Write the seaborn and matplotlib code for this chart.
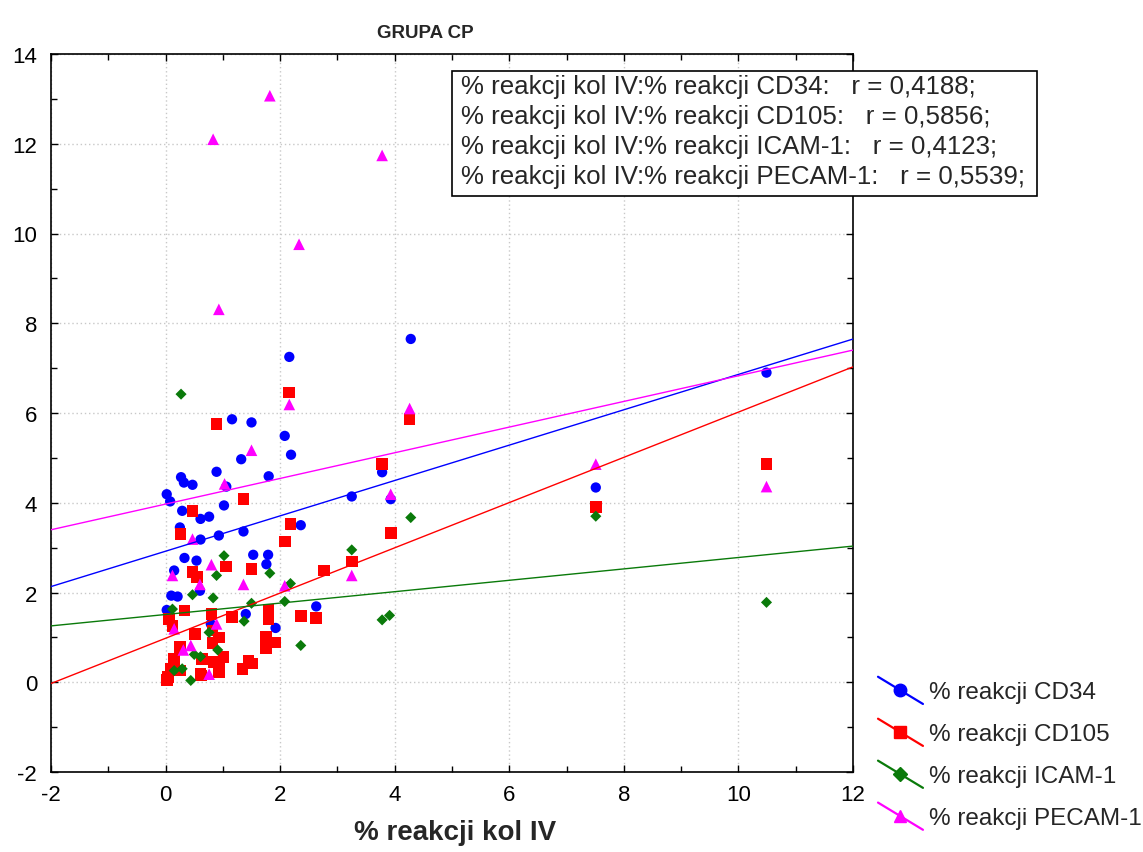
import numpy as np
import pandas as pd
import matplotlib
matplotlib.use("Agg")
import matplotlib.pyplot as plt
import seaborn as sns
from matplotlib.lines import Line2D
from matplotlib.patches import Rectangle
from matplotlib.legend_handler import HandlerBase

# dane: x = % reakcji kol IV
cd34_x = [10.49, 7.51, 4.28, 3.78, 3.25, 3.93, 2.36, 2.63, 2.16, 1.16, 1.50, 2.08, 2.19, 1.32,
          0.89, 1.80, 0.27, 0.32, 0.47, 1.06, 0.02, 0.08, 1.02, 0.29, 0.61, 0.76, 0.25, 1.36,
          0.61, 0.93, 0.33, 0.54, 1.53, 1.79, 1.76, 0.15, 0.60, 0.10, 0.21, 0.02, 1.40, 0.79, 1.92]
cd34_y = [6.90, 4.34, 7.65, 4.68, 4.14, 4.08, 3.50, 1.69, 7.25, 5.86, 5.79, 5.49, 5.07, 4.97,
          4.69, 4.59, 4.57, 4.45, 4.40, 4.36, 4.19, 4.03, 3.94, 3.82, 3.64, 3.69, 3.45, 3.36,
          3.18, 3.27, 2.77, 2.71, 2.84, 2.84, 2.63, 2.49, 2.04, 1.93, 1.91, 1.61, 1.52, 1.30, 1.21]

cd105_x = [10.49, 7.51, 4.26, 3.78, 3.93, 3.25, 2.77, 2.63, 2.36, 2.16, 0.89, 1.36, 0.47, 2.18,
           0.26, 2.08, 1.06, 1.50, 0.47, 0.55, 0.33, 0.80, 1.16, 1.80, 1.80, 0.06, 0.12, 0.51,
           0.82, 0.93, 1.75, 1.92, 1.75, 0.82, 0.25, 1.01, 0.15, 0.64, 0.84, 1.45, 1.34, 0.09,
           0.25, 0.61, 0.93, 0.02, 0.04, 1.51, 0.62, 0.93]
cd105_y = [4.86, 3.90, 5.86, 4.86, 3.33, 2.69, 2.49, 1.43, 1.47, 6.46, 5.75, 4.08, 3.82, 3.53,
           3.30, 3.14, 2.58, 2.52, 2.45, 2.35, 1.60, 1.52, 1.45, 1.61, 1.41, 1.41, 1.26, 1.08,
           1.15, 1.00, 1.02, 0.89, 0.76, 0.87, 0.78, 0.56, 0.52, 0.52, 0.45, 0.47, 0.30, 0.30,
           0.26, 0.18, 0.22, 0.05, 0.12, 0.42, 0.15, 0.33]

icam_x = [10.49, 7.51, 4.28, 3.25, 3.78, 3.91, 2.36, 0.27, 1.02, 1.82, 0.89, 2.18, 0.47, 0.83,
          1.50, 2.08, 0.12, 1.37, 0.76, 0.91, 0.61, 0.15, 0.29, 0.44, 0.50]
icam_y = [1.78, 3.70, 3.67, 2.95, 1.39, 1.49, 0.82, 6.42, 2.82, 2.43, 2.38, 2.20, 1.95, 1.88,
          1.76, 1.80, 1.63, 1.36, 1.11, 0.72, 0.57, 0.26, 0.30, 0.04, 0.62]

pecam_x = [10.49, 7.51, 4.26, 3.93, 3.25, 1.82, 0.83, 3.78, 2.33, 0.93, 2.16, 1.50, 1.03, 0.47,
           0.80, 0.12, 0.60, 1.36, 2.08, 0.89, 0.15, 0.44, 0.31, 0.76]
pecam_y = [4.36, 4.86, 6.10, 4.19, 2.38, 13.07, 12.10, 11.74, 9.76, 8.31, 6.19, 5.17, 4.42, 3.19,
           2.62, 2.38, 2.18, 2.18, 2.15, 1.30, 1.19, 0.82, 0.72, 0.18]

# proste regresji (wyraz wolny, nachylenie)
line_intercept = [2.92, 0.98, 1.51, 3.97]
line_slope = [0.394, 0.504, 0.127, 0.286]
r_values = ["0,4188", "0,5856", "0,4123", "0,5539"]
series_names = ["CD34", "CD105", "ICAM-1", "PECAM-1"]

colors = ["#0000ff", "#ff0000", "#0a7a0a", "#ff00ff"]
markers = ["o", "s", "D", "^"]
msizes = [55, 70, 32, 70]

sns.set_theme(style="white")
plt.rcParams["font.family"] = ["Liberation Sans", "DejaVu Sans"]
plt.rcParams["axes.unicode_minus"] = False

W, H = 1143, 853
fig = plt.figure(figsize=(W / 100, H / 100), dpi=100)
ax = fig.add_axes([51 / W, 1 - 773 / H, 802 / W, 718 / H])

xs = [cd34_x, cd105_x, icam_x, pecam_x]
ys = [cd34_y, cd105_y, icam_y, pecam_y]

for i in range(4):
    df = pd.DataFrame({"x": xs[i], "y": ys[i]})
    sns.scatterplot(data=df, x="x", y="y", ax=ax, color=colors[i], marker=markers[i],
                    s=msizes[i], edgecolor="none", zorder=3)

x_line = np.array([-2.0, 12.0])
for i in range(4):
    y_line = line_intercept[i] + line_slope[i] * x_line
    sns.lineplot(x=x_line, y=y_line, ax=ax, color=colors[i], lw=1.0, zorder=4)

ax.set_xlim(-2, 12)
ax.set_ylim(-2, 14)
ax.set_xticks(np.arange(-2, 13, 2))
ax.set_yticks(np.arange(-2, 15, 2))
ax.set_xticks(np.arange(-1, 12, 2), minor=True)
ax.set_yticks(np.arange(-1, 14, 2), minor=True)
ax.tick_params(which="both", direction="in", top=True, right=True, bottom=True, left=True,
               labelsize=16, colors="black", width=1)
ax.tick_params(which="major", length=5)
ax.tick_params(axis="x", which="major", pad=9)
ax.tick_params(axis="y", which="major", pad=10)
ax.tick_params(which="minor", length=4)
ax.grid(True, which="major", linestyle=(0, (1, 2)), color="#c8c8c8", lw=1)
for sp in ax.spines.values():
    sp.set_color("black")
    sp.set_linewidth(1.2)
ax.set_xlabel("")
ax.set_ylabel("")

fig.text(425 / W, 1 - 33 / H, "GRUPA CP", ha="center", va="center",
         fontsize=13.5, fontweight="bold")
fig.text(455 / W, 1 - 833 / H, "% reakcji kol IV", ha="center", va="center",
         fontsize=20, fontweight="bold")

# ramka ze współczynnikami korelacji
fig.patches.append(Rectangle((452 / W, 1 - 197 / H), 585 / W, 125 / H, transform=fig.transFigure,
                             fc="white", ec="black", lw=1.2, zorder=5))
line_y = [87, 117, 147, 177]
for n, r, yy in zip(series_names, r_values, line_y):
    fig.text(461 / W, 1 - yy / H, f"% reakcji kol IV:% reakcji {n}:   r = {r};",
             ha="left", va="center", fontsize=18.6, zorder=6)


class DiagHandler(HandlerBase):
    def create_artists(self, legend, orig_handle, xdescent, ydescent, width, height,
                       fontsize, trans):
        x0 = -xdescent
        y0 = -ydescent
        line = Line2D([x0, x0 + width], [y0 + height * 1.25, y0 - height * 0.35],
                      color=orig_handle.get_color(), lw=1.6, transform=trans)
        mark = Line2D([x0 + width / 2], [y0 + height * 0.45], marker=orig_handle.get_marker(),
                      color=orig_handle.get_color(), markersize=orig_handle.get_markersize(),
                      linestyle="none", transform=trans)
        return [line, mark]


handles = [Line2D([], [], color=colors[i], marker=markers[i], markersize=9 if i != 2 else 7)
           for i in range(4)]
labels = [f"% reakcji {n}" for n in series_names]
fig.legend(handles, labels, loc="upper left", bbox_to_anchor=(878 / W, 1 - 682 / H),
           frameon=False, fontsize=17.5, handlelength=1.85, handletextpad=0.25,
           labelspacing=0.82, borderpad=0, borderaxespad=0,
           handler_map={Line2D: DiagHandler()})

fig.savefig("out.png", dpi=100, facecolor="white")
